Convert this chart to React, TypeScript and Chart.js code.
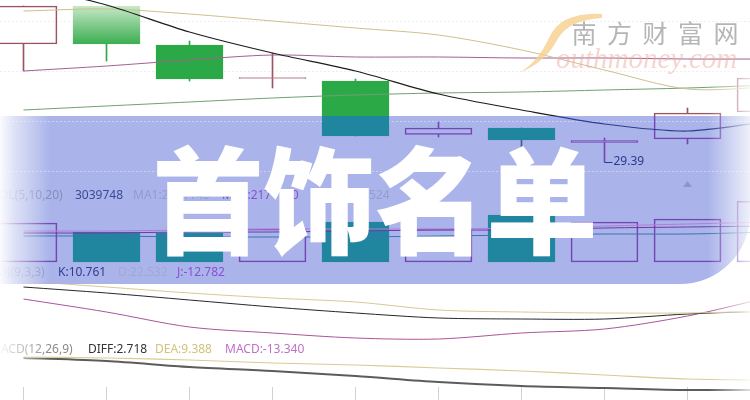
import React, { useEffect, useRef } from 'react';
import { Chart, registerables } from 'chart.js';
Chart.register(...registerables);

// ---------- data ----------
const categories = ['1', '2', '3', '4', '5', '6', '7', '8', '9', '10'];
const opens = [34.11, 35.63, 34.07, 32.73, 32.63, 30.49, 30.75, 30.17, 30.31, 31.39];
const closes = [35.63, 34.11, 32.71, 32.77, 30.43, 30.75, 30.27, 30.25, 31.35, 32.75];
const highs = [35.63, 35.63, 34.23, 33.75, 32.71, 30.99, 30.75, 30.35, 31.55, 32.95];
const lows = [33.03, 33.43, 32.63, 32.35, 30.43, 30.39, 29.79, 29.39, 30.11, 31.2];
const maBlack = [36.47, 35.67, 34.59, 33.75, 33.03, 32.11, 31.47, 30.91, 30.63, 31.03];
const maTan = [35.43, 35.51, 35.31, 35.03, 34.75, 34.47, 33.87, 33.07, 32.31, 32.39];
const maPurple = [33.03, 33.23, 33.47, 33.67, 33.59, 33.59, 33.55, 33.55, 33.51, 33.51];
const maGreen = [31.47, 31.63, 31.79, 31.95, 32.07, 32.15, 32.19, 32.27, 32.35, 32.47];
const volumes = [1950000, 1500000, 1450000, 1650000, 2000000, 1650000, 2350000, 2000000, 2150000, 3039748];
const volMa1 = [1550000, 1550000, 1600000, 1650000, 1650000, 1650000, 1700000, 1800000, 1900000, 2000000];
const volMa2 = [1450000, 1450000, 1500000, 1500000, 1550000, 1600000, 1600000, 1700000, 1750000, 1800000];
const volMa3 = [1300000, 1300000, 1250000, 1250000, 1250000, 1300000, 1350000, 1400000, 1400000, 1500000];
const kdjK = [49.5, 40.5, 30, 19.5, 10.5, 3, 1.5, 1.5, 9, 13.5];
const kdjD = [58.5, 49.5, 40.5, 33, 27, 15, 12, 10.5, 10.5, 13.5];
const kdjJ = [31.5, 12, -10.5, -19.5, -27, -28.5, -19.5, -13.5, 6, 34.5];
const macdDiff = [6, 4.5, 1.5, -0.5, -3, -6, -8, -9, -10, -10];
const macdDea = [6.5, 6, 5, 3.5, 2.5, 1, -0.5, -2.5, -4.5, -5];
const priceGridTicks = [29, 31, 33, 35];

const volLegend = ['VOL(5,10,20)', '3039748', 'MA1:2361140', 'MA2:2171170', 'MA3:2047524'];
const kdjLegend = ['KDJ(9,3,3)', 'K:10.761', 'D:22.532', 'J:-12.782'];
const macdLegend = ['MACD(12,26,9)', 'DIFF:2.718', 'DEA:9.388', 'MACD:-13.340'];
const titleText = '首饰名单';
const watermarkCn = '南方财富网';
const watermarkEn = 'outhmoney.com';

// ---------- layout / style ----------
const W = 750;
const H = 400;
const BAND_TOP = 116;
const BAND_BOTTOM = 284;
const BAND_R = 70;
const STEP = 83;

function bandGrad(chart: any, outside: string, inside: string, below?: string) {
  const g = chart.ctx.createLinearGradient(0, 0, 0, H);
  const t1 = BAND_TOP / H;
  const t2 = BAND_BOTTOM / H;
  const b = below || outside;
  g.addColorStop(0, outside);
  g.addColorStop(t1, outside);
  g.addColorStop(t1 + 0.0005, inside);
  g.addColorStop(t2, inside);
  g.addColorStop(t2 + 0.0005, b);
  g.addColorStop(1, b);
  return g;
}

function greenGrad(chart: any) {
  const g = chart.ctx.createLinearGradient(0, 0, 0, H);
  const t1 = BAND_TOP / H;
  const t2 = BAND_BOTTOM / H;
  g.addColorStop(0, '#d2edd2');
  g.addColorStop(6 / H, '#c6e8c6');
  g.addColorStop(44 / H, '#3cae52');
  g.addColorStop(45 / H, '#2ba947');
  g.addColorStop(t1, '#2ba947');
  g.addColorStop(t1 + 0.0005, '#2086a0');
  g.addColorStop(t2, '#2086a0');
  g.addColorStop(t2 + 0.0005, '#2ba947');
  g.addColorStop(1, '#2ba947');
  return g;
}

const UP_OUT = '#9c5462';
const UP_IN = '#7446b4';
const isUp = (i: number) => closes[i] >= opens[i];

function txtRow(ctx: any, items: string[], xs: number[], colors: string[], y: number) {
  ctx.font = '12px "Noto Sans"';
  ctx.textBaseline = 'middle';
  ctx.textAlign = 'left';
  items.forEach((s, i) => {
    ctx.fillStyle = colors[i];
    ctx.fillText(s, xs[i], y);
  });
}

const decor = {
  id: 'decor',
  beforeDraw(chart: any) {
    const ctx = chart.ctx;
    ctx.save();
    ctx.fillStyle = '#ffffff';
    ctx.fillRect(0, 0, W, H);
    ctx.beginPath();
    ctx.moveTo(-2, BAND_TOP);
    ctx.lineTo(W, BAND_TOP);
    ctx.lineTo(W, BAND_BOTTOM - BAND_R);
    ctx.arc(W - BAND_R, BAND_BOTTOM - BAND_R, BAND_R, 0, Math.PI / 2);
    ctx.lineTo(-2, BAND_BOTTOM);
    ctx.closePath();
    ctx.fillStyle = '#aab4ea';
    ctx.fill();
    ctx.restore();
  },
  afterDraw(chart: any) {
    const ctx = chart.ctx;
    const xs = chart.scales.x;
    const yP = chart.scales.yP;
    ctx.save();

    // legends
    txtRow(ctx, volLegend, [-8, 75, 133, 222, 313], ['#858cb8', '#3b4a96', '#959bcb', '#8a4fd0', '#979dcb'], 196);
    txtRow(ctx, kdjLegend, [-9, 58, 118, 177], ['#8d94c2', '#2d3d90', '#a2a8d4', '#8b4fd6'], 273);
    txtRow(ctx, macdLegend, [-10, 88, 155, 225], ['#8a8a8a', '#333333', '#d4c27a', '#c070c8'], 350);

    // low price marker
    const lx = xs.getPixelForValue(7);
    const ly = yP.getPixelForValue(lows[7]);
    ctx.strokeStyle = '#2a3a8a';
    ctx.lineWidth = 1;
    ctx.beginPath();
    ctx.moveTo(lx, Math.round(ly) + 0.5);
    ctx.lineTo(lx + 8, Math.round(ly) + 0.5);
    ctx.stroke();
    ctx.fillStyle = '#2a3a8a';
    ctx.font = '12px "Noto Sans"';
    ctx.textBaseline = 'middle';
    ctx.fillText(lows[7].toFixed(2), lx + 9, ly);

    // small triangle
    const tx = xs.getPixelForValue(8);
    ctx.fillStyle = '#8c96cc';
    ctx.beginPath();
    ctx.moveTo(tx, 181);
    ctx.lineTo(tx + 4.5, 187);
    ctx.lineTo(tx - 4.5, 187);
    ctx.closePath();
    ctx.fill();

    // left fade
    const lg = ctx.createLinearGradient(0, 0, 50, 0);
    lg.addColorStop(0, 'rgba(255,255,255,0.95)');
    lg.addColorStop(0.3, 'rgba(255,255,255,0.6)');
    lg.addColorStop(1, 'rgba(255,255,255,0)');
    ctx.fillStyle = lg;
    ctx.fillRect(0, BAND_TOP, 50, BAND_BOTTOM - BAND_TOP);
    ctx.fillRect(0, 338, 50, 24);

    // right fade
    const rg = ctx.createLinearGradient(708, 0, W, 0);
    rg.addColorStop(0, 'rgba(255,255,255,0)');
    rg.addColorStop(1, 'rgba(255,255,255,0.8)');
    ctx.fillStyle = rg;
    ctx.fillRect(708, 70, 42, H - 70);

    // watermark
    ctx.fillStyle = 'rgba(246,206,140,0.8)';
    ctx.beginPath();
    ctx.moveTo(602, 14);
    ctx.quadraticCurveTo(560, 12, 549, 38);
    ctx.quadraticCurveTo(538, 62, 519, 73);
    ctx.quadraticCurveTo(546, 62, 557, 40);
    ctx.quadraticCurveTo(568, 20, 602, 18);
    ctx.closePath();
    ctx.fill();
    ctx.font = '25px "Noto Sans CJK SC"';
    ctx.textAlign = 'center';
    ctx.textBaseline = 'middle';
    ctx.fillStyle = 'rgba(150,150,150,0.7)';
    Array.from(watermarkCn).forEach((c, i) => ctx.fillText(c, 584 + i * 35.5, 33));
    ctx.font = 'italic 29px "Liberation Serif"';
    ctx.textAlign = 'left';
    ctx.textBaseline = 'alphabetic';
    ctx.fillStyle = 'rgba(238,172,160,0.5)';
    ctx.fillText(watermarkEn, 556, 68);

    // title
    ctx.translate(375, 201);
    ctx.scale(0.96, 1);
    ctx.font = '900 116px "Noto Sans CJK SC"';
    ctx.fillStyle = '#ffffff';
    ctx.textAlign = 'center';
    ctx.textBaseline = 'middle';
    ctx.fillText(titleText, 0, 0);
    ctx.restore();
  },
};

export default function App() {
  const ref = useRef<HTMLCanvasElement>(null);
  useEffect(() => {
    document.body.style.margin = '0';
    const canvas = ref.current!;
    const idx = categories.map((_, i) => i);
    const areaH = 387;
    const xMin = -23.5 / STEP;
    const xMax = xMin + W / STEP;
    const pxPerPrice = 25;
    const priceMax = 35.87;
    const priceMin = priceMax - areaH / pxPerPrice;
    const volPerPx = 50000;
    const volBase = 262;
    const kdjPerPx = 1.5;
    const kdjBase = 320;
    const macdPerPx = 0.5;
    const macdBase = 370;

    const line = (data: number[], axis: string, out: string, inside: string, width = 1, extra: any = {}) => ({
      type: 'line',
      yAxisID: axis,
      data: idx.map((i) => ({ x: i, y: data[i] })),
      borderColor: (c: any) => bandGrad(c.chart, out, inside),
      borderWidth: width,
      pointRadius: 0,
      tension: 0.3,
      fill: false,
      order: 1,
      ...extra,
    });

    const chart = new Chart(canvas, {
      data: {
        datasets: [
          // price MAs
          line(maBlack, 'yP', '#1c1c1c', '#2c3c8c', 1.2),
          line(maTan, 'yP', '#cdbf8e', '#b9b090'),
          line(maPurple, 'yP', '#a06090', '#8050a0'),
          line(maGreen, 'yP', '#6f9f6f', '#5a7aa0'),
          // volume MAs
          line(volMa1, 'yV', '#b27ad8', '#b27ad8'),
          line(volMa2, 'yV', '#6a3aa8', '#6a3aa8'),
          line(volMa3, 'yV', '#3a72b4', '#3a72b4'),
          // KDJ
          line(kdjD, 'yK', '#d6c993', '#b8b4c8'),
          line(kdjK, 'yK', '#262626', '#303a70'),
          line(kdjJ, 'yK', '#a8559a', '#8a50b0'),
          // MACD
          line(macdDea, 'yM', '#d8cb94', '#d8cb94', 1.2, { clip: false }),
          line(macdDiff, 'yM', '#5c5c5c', '#5c5c5c', 2, { clip: false }),
          // candle bodies
          {
            type: 'bar',
            yAxisID: 'yP',
            data: idx.map((i) => ({ x: i, y: [opens[i], closes[i]] })),
            barThickness: 67,
            grouped: false,
            borderWidth: 1,
            borderSkipped: false,
            backgroundColor: (c: any) => (isUp(c.dataIndex) ? 'rgba(0,0,0,0)' : greenGrad(c.chart)),
            borderColor: (c: any) => (isUp(c.dataIndex) ? bandGrad(c.chart, UP_OUT, UP_IN) : greenGrad(c.chart)),
            order: 5,
          },
          // upper wicks
          {
            type: 'bar',
            yAxisID: 'yP',
            data: idx.map((i) => ({ x: i, y: [Math.max(opens[i], closes[i]), highs[i]] })),
            barThickness: 1,
            grouped: false,
            borderWidth: 0,
            backgroundColor: (c: any) =>
              isUp(c.dataIndex) ? bandGrad(c.chart, UP_OUT, UP_IN) : bandGrad(c.chart, '#2ba947', '#3f5c9c'),
            order: 6,
          },
          // lower wicks
          {
            type: 'bar',
            yAxisID: 'yP',
            data: idx.map((i) => ({ x: i, y: [lows[i], Math.min(opens[i], closes[i])] })),
            barThickness: 1,
            grouped: false,
            borderWidth: 0,
            backgroundColor: (c: any) =>
              isUp(c.dataIndex) ? bandGrad(c.chart, UP_OUT, UP_IN) : bandGrad(c.chart, '#2ba947', '#3f5c9c'),
            order: 6,
          },
          // volume bars
          {
            type: 'bar',
            yAxisID: 'yV',
            data: idx.map((i) => ({ x: i, y: volumes[i] })),
            barThickness: 67,
            grouped: false,
            borderWidth: 1,
            borderSkipped: false,
            backgroundColor: (c: any) => (isUp(c.dataIndex) ? 'rgba(0,0,0,0)' : '#2086a0'),
            borderColor: (c: any) => (isUp(c.dataIndex) ? UP_IN : '#2086a0'),
            order: 5,
          },
        ] as any,
      },
      options: {
        responsive: false,
        animation: false,
        devicePixelRatio: 1,
        layout: { padding: 0 },
        plugins: { legend: { display: false }, tooltip: { enabled: false } },
        scales: {
          x: {
            type: 'linear',
            min: xMin,
            max: xMax,
            offset: false,
            position: 'bottom',
            grid: { offset: false, drawOnChartArea: false, drawTicks: true, tickLength: 13, color: '#d2d2d2' },
            border: { display: false },
            ticks: { display: false },
            afterBuildTicks: (s: any) => {
              s.ticks = idx.slice(0, 9).map((v) => ({ value: v }));
            },
          },
          yP: {
            type: 'linear',
            position: 'left',
            min: priceMin,
            max: priceMax,
            grid: { drawTicks: false, color: 'rgba(226,226,236,0.6)' },
            border: { display: false, dash: [2, 2] },
            ticks: { display: false },
            afterBuildTicks: (s: any) => {
              s.ticks = priceGridTicks.map((v) => ({ value: v }));
            },
          },
          yV: {
            type: 'linear',
            display: false,
            min: -(areaH - volBase) * volPerPx,
            max: volBase * volPerPx,
          },
          yK: {
            type: 'linear',
            display: false,
            min: -(areaH - kdjBase) * kdjPerPx,
            max: kdjBase * kdjPerPx,
          },
          yM: {
            type: 'linear',
            display: false,
            min: -(areaH - macdBase) * macdPerPx,
            max: macdBase * macdPerPx,
          },
        },
      } as any,
      plugins: [decor],
    });
    return () => chart.destroy();
  }, []);
  return (
    <div style={{ width: W, height: H, background: '#fff' }}>
      <canvas ref={ref} width={W} height={H} style={{ display: 'block' }} />
    </div>
  );
}
